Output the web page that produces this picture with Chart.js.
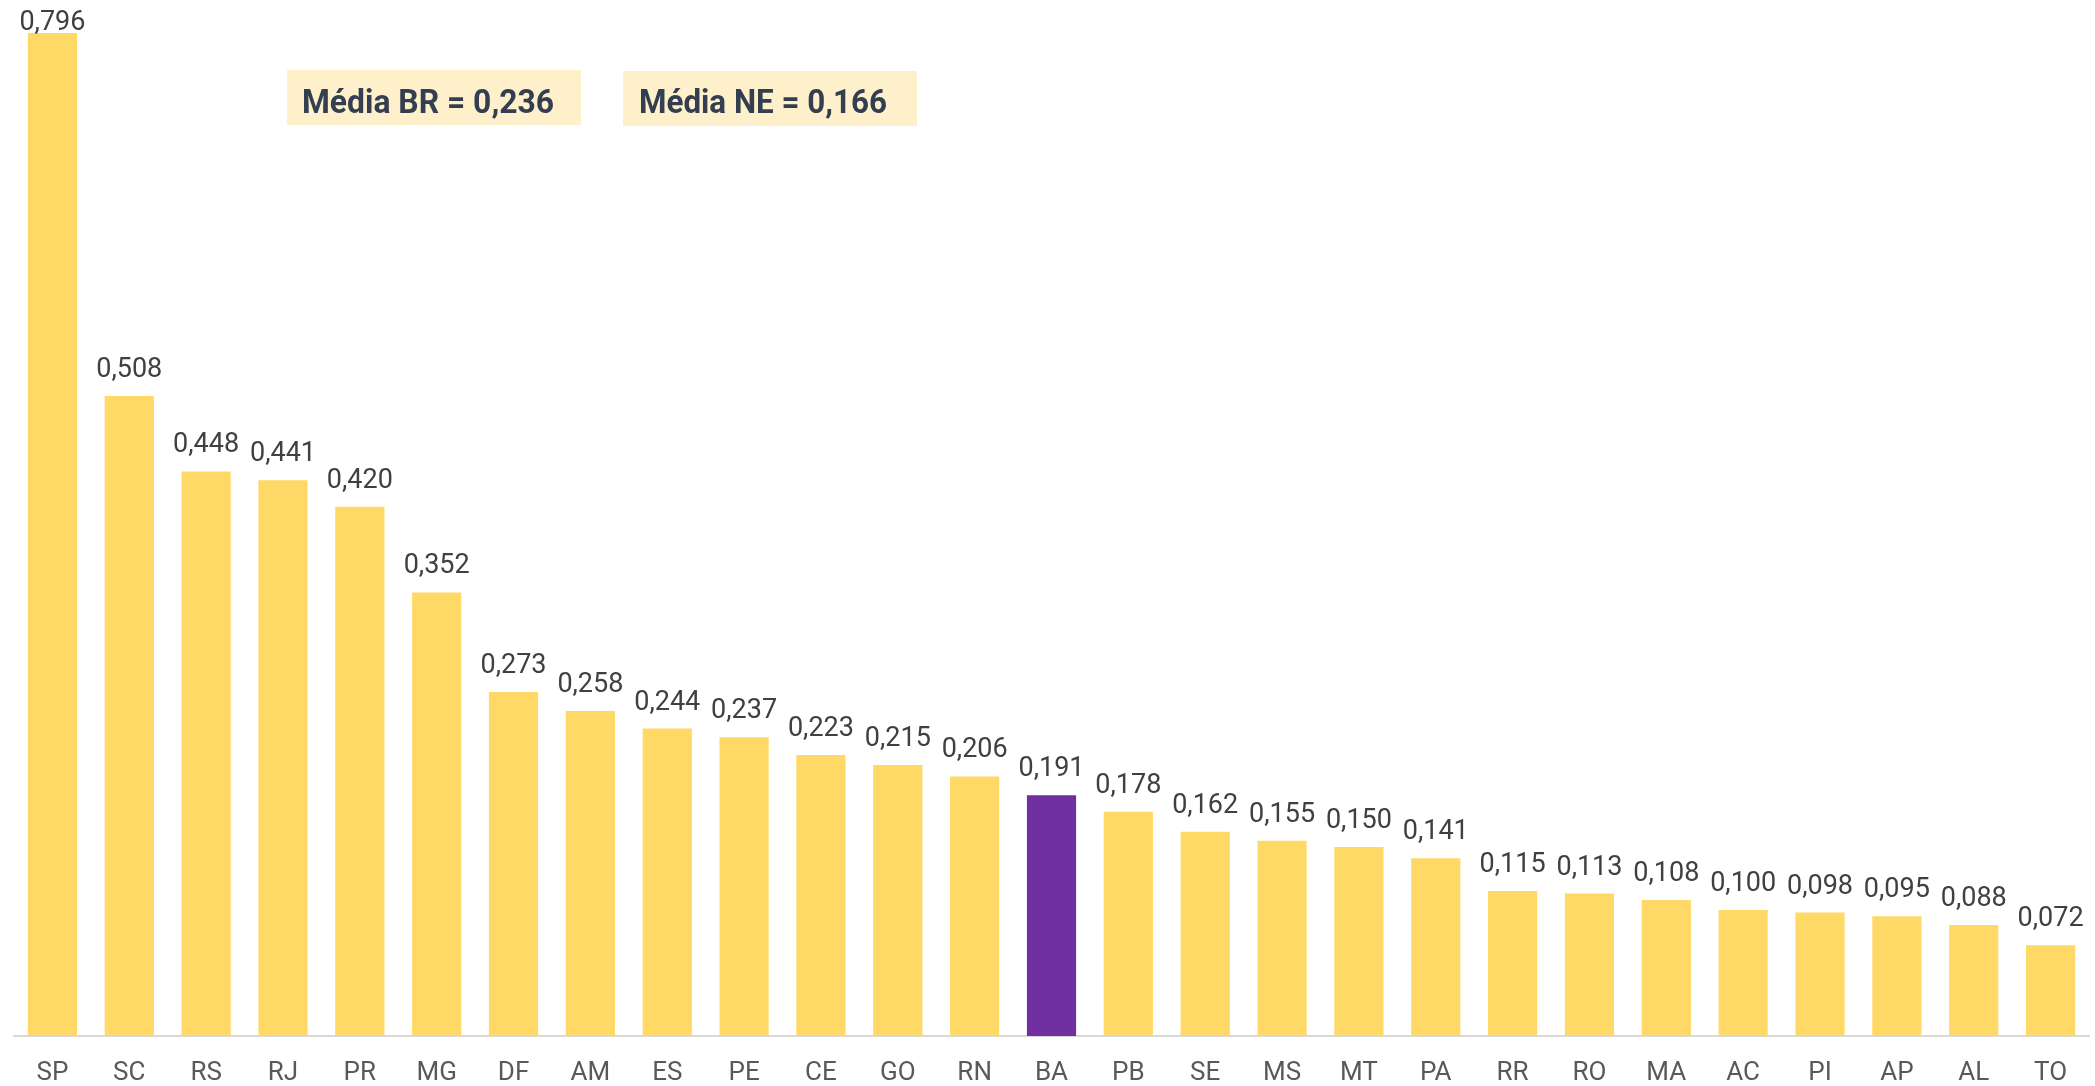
<!DOCTYPE html>
<html>
<head>
<meta charset="utf-8">
<script src="https://cdn.jsdelivr.net/npm/chart.js@4/dist/chart.umd.min.js"></script>
<style>
  html, body { margin: 0; padding: 0; background: #fff; }
  canvas { display: block; }
</style>
</head>
<body>
<canvas id="chart" width="2095" height="1086"></canvas>
<script>
// UFs ordered by value
const states = ['SP', 'SC', 'RS', 'RJ', 'PR', 'MG', 'DF', 'AM', 'ES', 'PE', 'CE', 'GO', 'RN', 'BA',
  'PB', 'SE', 'MS', 'MT', 'PA', 'RR', 'RO', 'MA', 'AC', 'PI', 'AP', 'AL', 'TO'];
const values = [0.796, 0.508, 0.448, 0.441, 0.420, 0.352, 0.273, 0.258, 0.244, 0.237, 0.223, 0.215, 0.206, 0.191,
  0.178, 0.162, 0.155, 0.150, 0.141, 0.115, 0.113, 0.108, 0.100, 0.098, 0.095, 0.088, 0.072];
const highlight = 'BA';
const averages = ['Média BR = 0,236', 'Média NE = 0,166'];

const YELLOW = '#FFD966';
const PURPLE = '#7030A0';

const fmt = v => v.toFixed(3).replace('.', ',');

// value labels above each bar
const valueLabels = {
  id: 'valueLabels',
  afterDatasetsDraw(chart) {
    const { ctx } = chart;
    const meta = chart.getDatasetMeta(0);
    ctx.save();
    ctx.font = '27px Roboto';
    ctx.fillStyle = '#404040';
    ctx.textAlign = 'center';
    ctx.textBaseline = 'alphabetic';
    meta.data.forEach((bar, i) => {
      const y = Math.max(bar.y - 19, 30);
      ctx.fillText(fmt(values[i]), bar.x, y);
    });
    ctx.restore();
  },
};

// the two "Média" boxes
const averageBoxes = {
  id: 'averageBoxes',
  afterDraw(chart) {
    const { ctx } = chart;
    const boxes = [
      { x: 287, y: 70, w: 294, h: 55, pad: 15, textW: 252 },
      { x: 623, y: 71, w: 294, h: 55, pad: 16, textW: 248 },
    ];
    ctx.save();
    boxes.forEach((b, i) => {
      ctx.fillStyle = '#FFF0CC';
      ctx.fillRect(b.x, b.y, b.w, b.h);
      ctx.save();
      ctx.font = 'bold 34px Roboto';
      const sx = Math.min(1, b.textW / ctx.measureText(averages[i]).width);
      ctx.translate(b.x + b.pad, 113);
      ctx.scale(sx, 1);
      ctx.fillStyle = '#333F50';
      ctx.textBaseline = 'alphabetic';
      ctx.fillText(averages[i], 0, 0);
      ctx.restore();
    });
    ctx.restore();
  },
};

new Chart(document.getElementById('chart').getContext('2d'), {
  type: 'bar',
  data: {
    labels: states,
    datasets: [{
      data: values,
      backgroundColor: states.map(s => (s === highlight ? PURPLE : YELLOW)),
      barPercentage: 0.64,
      categoryPercentage: 1,
    }],
  },
  options: {
    responsive: false,
    animation: false,
    layout: { padding: { top: 33, left: 14, right: 6, bottom: 0 } },
    plugins: {
      legend: { display: false },
      tooltip: { enabled: false },
    },
    scales: {
      x: {
        grid: { display: false },
        border: { display: true, color: '#D9D9D9', width: 2 },
        ticks: {
          color: '#595959',
          font: { family: 'Roboto', size: 26 },
          padding: 14,
          maxRotation: 0,
          autoSkip: false,
        },
        afterFit(scale) { scale.height = 50; },
      },
      y: {
        display: false,
        min: 0,
        max: 0.796,
      },
    },
  },
  plugins: [valueLabels, averageBoxes],
});
</script>
</body>
</html>
